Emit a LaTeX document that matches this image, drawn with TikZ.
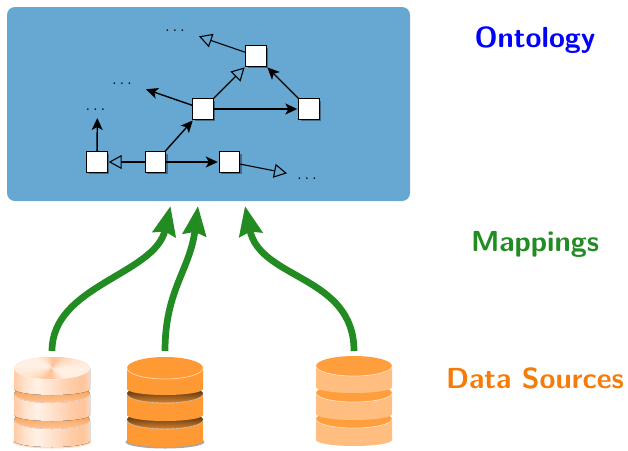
\documentclass[tikz,border=0pt]{standalone}
\usepackage{tikz}
\usetikzlibrary{arrows.meta, shadows}

\definecolor{ontoblue}{HTML}{66A8D1}
\definecolor{mapgreen}{HTML}{228B22}
\definecolor{srcorange}{HTML}{F57C0A}
\definecolor{paledark}{HTML}{FFC49A}
\definecolor{palelight}{HTML}{FFF1E6}
\definecolor{solidorange}{HTML}{FF9933}
\definecolor{softorange}{HTML}{FFBD80}

\pgfdeclarehorizontalshading{paleshade}{100bp}{
    color(0bp)=(paledark);
    color(25bp)=(paledark!90!white);
    color(32bp)=(paledark!50!white);
    color(40bp)=(palelight);
    color(50bp)=(paledark!50!white);
    color(62bp)=(paledark!85!white);
    color(70bp)=(paledark);
    color(75bp)=(paledark!70!white);
    color(100bp)=(paledark!70!white)}

\tikzset{
    term/.style={draw=black, fill=white, line width=0.9pt, minimum size=20.5pt, inner sep=0pt,
        drop shadow={shadow xshift=2pt, shadow yshift=-2pt, fill=black!60!ontoblue, opacity=0.6}},
    isa/.style={-{Stealth[length=12pt, width=11pt, inset=3pt]}, line width=1.4pt, shorten >=1pt},
    sub/.style={-{Triangle[open, length=13pt, width=14pt, line width=1.1pt]}, line width=1.1pt, shorten >=1pt},
    more/.style={font=\fontsize{18}{18}\selectfont, inner sep=0pt, anchor=base},
    mapping/.style={-{Stealth[length=29pt, width=23pt, inset=3pt]}, line width=6.7pt, mapgreen},
    layer/.style={font=\fontsize{29}{29}\selectfont\sffamily\bfseries},
    paleside/.style={shading=paleshade},
    solidside/.style={fill=solidorange},
    softside/.style={fill=softorange},
    palegap/.style={top color=srcorange!80!white, bottom color=paledark},
    solidgap/.style={top color=black!85!solidorange, bottom color=solidorange!85!black},
    softgap/.style={fill=solidorange!95!white}
}

% one disc of a stack: x, top y, side style, top style, top radius
\newcommand{\dbdisc}[5]{
    \fill[#3] (#1-38,#2) -- (#1-38,#2+21) arc[start angle=180, end angle=360, x radius=38pt, y radius=6pt] -- (#1+38,#2) -- cycle;
    \fill[#4] (#1,#2) ellipse[x radius=38pt, y radius=#5pt];
    \draw[white, opacity=0.6, line width=0.7pt] (#1-38,#2) arc[start angle=180, end angle=360, x radius=38pt, y radius=#5pt];
}

\begin{document}
\begin{tikzpicture}[x=1pt, y=-1pt]
    \useasboundingbox (0,0) rectangle (628,450);

    % The ontology box
    \node[fill=ontoblue, rounded corners=8pt, minimum width=403pt, minimum height=194pt, inner sep=0pt] (ontology) at (208.5,104) {};

    % Terms
    \node[term] (t1) at (97,162) {};
    \node[term] (t2) at (155.5,162) {};
    \node[term] (t3) at (229.5,162) {};
    \node[term] (t4) at (203,109) {};
    \node[term] (t5) at (309,109) {};
    \node[term] (t6) at (256,56) {};

    % Dots
    \node[more] (m1) at (95.5,110) {$\dots$};
    \node[more] (m2) at (122,84) {$\dots$};
    \node[more] (m3) at (175,31) {$\dots$};
    \node[more] (m4) at (307,179) {$\dots$};

    % Free arrow ends
    \coordinate (e1) at (97.3,117);
    \coordinate (e2) at (145,89);
    \coordinate (e3) at (198,36);
    \coordinate (e4) at (288,173.5);

    % Arrows between terms
    \draw[isa] (t1) -- (e1);
    \draw[sub] (t2) -- (t1);
    \draw[isa] (t2) -- (t3);
    \draw[isa] (t2) -- (t4);
    \draw[sub] (t3) -- (e4);
    \draw[isa] (t4) -- (e2);
    \draw[isa] (t4) -- (t5);
    \draw[sub] (t4) -- (t6);
    \draw[isa] (t5) -- (t6);
    \draw[sub] (t6) -- (e3);

    % Layer labels
    \node[layer, text=blue] (lo) at (535,40) {Ontology};
    \node[layer, text=mapgreen] (lm) at (535,244) {Mappings};
    \node[layer, text=srcorange] (ls) at (535,378) {Data Sources};

    % First stack
    \fill[paledark!60!white] (52,442) ellipse[x radius=39.5pt, y radius=6.5pt];
    \dbdisc{52}{420}{paleside}{palegap}{9}
    \dbdisc{52}{394}{paleside}{palegap}{9}
    \dbdisc{52}{368}{paleside}{fill=paledark}{11}
    \begin{scope}
        \clip (52,368) ellipse[x radius=38pt, y radius=11pt];
        \foreach \a in {0,10,...,350} {
            \pgfmathsetmacro{\mix}{50+50*cos(2*\a+40)}
            \fill[palelight!\mix!paledark] (52,368) -- +(\a:40pt) -- +(\a+11:40pt) -- cycle;
        }
    \end{scope}

    % Second stack
    \fill[black!35] (165,442) ellipse[x radius=39.5pt, y radius=6.5pt];
    \dbdisc{165}{420}{solidside}{solidgap}{9}
    \dbdisc{165}{394}{solidside}{solidgap}{9}
    \dbdisc{165}{368}{solidside}{solidside}{11}

    % Third stack
    \dbdisc{354}{419}{softside}{softgap}{9}
    \dbdisc{354}{393}{softside}{softgap}{9}
    \dbdisc{354}{366}{softside}{softgap}{10}

    % Mappings
    \coordinate (s1) at (52,351);
    \coordinate (s2) at (165,351);
    \coordinate (s3) at (354,351);
    \coordinate (o1) at (170.5,206);
    \coordinate (o2) at (198,206);
    \coordinate (o3) at (245,206);
    \draw[mapping] (s1) .. controls (52,285) and (155,275) .. (o1);
    \draw[mapping] (s2) .. controls (165,290) and (190,270) .. (o2);
    \draw[mapping] (s3) .. controls (354,275) and (260,280) .. (o3);
\end{tikzpicture}
\end{document}
